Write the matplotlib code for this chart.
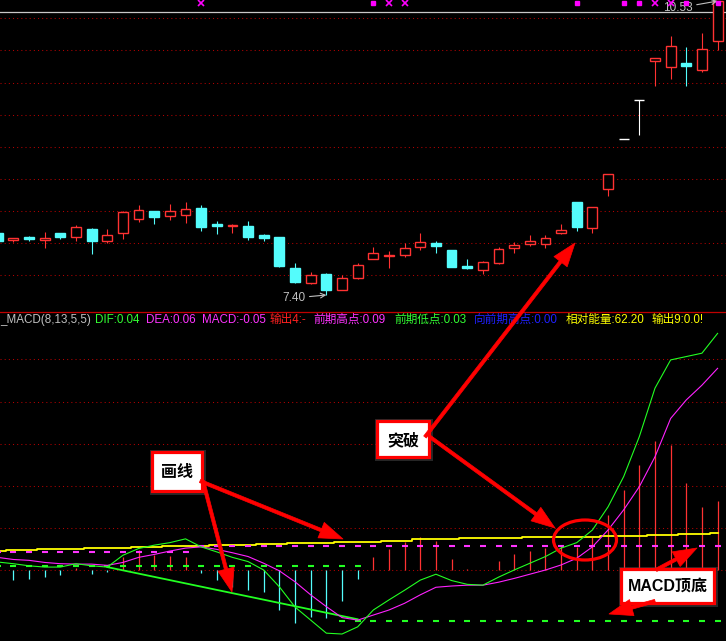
import numpy as np
import matplotlib
matplotlib.use('Agg')
import matplotlib.pyplot as plt
import matplotlib.transforms as mtransforms
from matplotlib.patches import Rectangle, Ellipse, FancyArrowPatch

plt.rcParams['font.family'] = ['Liberation Sans', 'Noto Sans CJK SC', 'DejaVu Sans']

# ---------------- K线 ----------------
opens = [8.06, 7.99, 8.02, 7.99, 8.06, 8.02, 8.10, 7.97, 8.06, 8.21,
         8.29, 8.24, 8.25, 8.33, 8.16, 8.13, 8.13, 8.04, 8.02, 7.69,
         7.53, 7.62, 7.45, 7.58, 7.78, 7.82, 7.83, 7.91, 7.95, 7.88,
         7.71, 7.67, 7.74, 7.90, 7.94, 7.94, 8.06, 8.39, 8.11, 8.53,
         9.06, 9.48, 9.89, 9.83, 9.87, 9.80, 10.10]
highs = [8.07, 8.01, 8.03, 8.07, 8.06, 8.15, 8.11, 8.10, 8.29, 8.36,
         8.29, 8.37, 8.39, 8.36, 8.19, 8.16, 8.19, 8.05, 8.02, 7.74,
         7.64, 7.63, 7.61, 7.74, 7.91, 7.87, 7.95, 8.06, 7.97, 7.88,
         7.78, 7.76, 7.91, 7.96, 8.04, 8.04, 8.16, 8.39, 8.34, 8.69,
         9.06, 9.48, 9.92, 10.16, 10.04, 10.19, 10.53]
lows = [7.97, 7.96, 7.97, 7.90, 8.00, 7.97, 7.84, 7.95, 8.00, 8.18,
        8.16, 8.20, 8.17, 8.08, 8.05, 8.06, 7.99, 7.97, 7.70, 7.53,
        7.52, 7.40, 7.45, 7.57, 7.78, 7.69, 7.80, 7.88, 7.85, 7.70,
        7.68, 7.62, 7.73, 7.85, 7.92, 7.90, 8.05, 8.08, 8.06, 8.45,
        9.06, 9.10, 9.62, 9.70, 9.63, 9.77, 10.01]
closes = [7.98, 8.01, 8.00, 8.01, 8.02, 8.12, 7.98, 8.04, 8.28, 8.30,
          8.23, 8.29, 8.32, 8.12, 8.14, 8.15, 8.02, 8.01, 7.71, 7.54,
          7.61, 7.45, 7.58, 7.72, 7.85, 7.83, 7.90, 7.96, 7.92, 7.70,
          7.69, 7.75, 7.89, 7.93, 7.97, 8.01, 8.09, 8.12, 8.34, 8.69,
          9.06, 9.48, 9.92, 10.05, 9.84, 10.02, 10.53]
white_bars = [40, 41]
low_idx, low_price = 21, 7.40
high_idx, high_price = 46, 10.53

# 顶部信号
sig_box = [24, 37, 40, 41, 44, 46]
sig_x = [13, 25, 26, 42, 43]

# ---------------- MACD ----------------
dif = [0.019, 0.015, 0.010, 0.007, 0.007, 0.015, 0.010, 0.007, 0.035, 0.051,
       0.059, 0.065, 0.074, 0.055, 0.043, 0.030, 0.020, 0.000, -0.040, -0.088,
       -0.119, -0.150, -0.152, -0.135, -0.095, -0.071, -0.048, -0.024, -0.010, -0.025,
       -0.034, -0.036, -0.017, 0.000, 0.016, 0.032, 0.052, 0.065, 0.095, 0.150,
       0.222, 0.317, 0.432, 0.499, 0.507, 0.515, 0.562]
dea = [0.030, 0.025, 0.023, 0.018, 0.015, 0.014, 0.014, 0.011, 0.018, 0.030,
       0.037, 0.045, 0.052, 0.055, 0.049, 0.041, 0.032, 0.016, -0.002, -0.028,
       -0.059, -0.087, -0.113, -0.119, -0.107, -0.095, -0.079, -0.059, -0.041, -0.038,
       -0.036, -0.036, -0.029, -0.020, -0.010, 0.000, 0.012, 0.028, 0.055, 0.095,
       0.143, 0.198, 0.269, 0.360, 0.404, 0.439, 0.479]
macd = [-0.020, -0.023, -0.021, -0.016, -0.011, 0.005, -0.009, -0.005, 0.031, 0.047,
        0.036, 0.033, 0.031, -0.007, -0.023, -0.040, -0.048, -0.052, -0.095, -0.125,
        -0.112, -0.113, -0.073, -0.021, 0.031, 0.051, 0.067, 0.079, 0.069, 0.027,
        0.002, 0.000, 0.022, 0.038, 0.044, 0.052, 0.057, 0.055, 0.079, 0.131,
        0.190, 0.249, 0.306, 0.297, 0.206, 0.150, 0.163]
energy = [0.044, 0.047, 0.047, 0.049, 0.049, 0.049, 0.052, 0.052, 0.052, 0.054,
          0.054, 0.056, 0.056, 0.057, 0.059, 0.059, 0.059, 0.062, 0.062, 0.063,
          0.063, 0.063, 0.066, 0.066, 0.067, 0.070, 0.070, 0.073, 0.073, 0.073,
          0.076, 0.076, 0.076, 0.076, 0.078, 0.078, 0.078, 0.078, 0.078, 0.081,
          0.081, 0.081, 0.083, 0.083, 0.086, 0.086, 0.089]
prev_high = [(0, 12, 0.042), (13, 46, 0.056)]
prev_low = [(0, 23, 0.010), (22, 46, -0.120)]
trend_i = [7, 23]
trend_v = [0.007, -0.117]

header = ["_MACD(8,13,5,5)", "DIF:0.04", "DEA:0.06", "MACD:-0.05", "输出4:-",
          "前期高点:0.09", "前期低点:0.03", "向前期高点:0.00", "相对能量:62.20", "输出9:0.0!"]
header_colors = ['#c0c0c0', '#33ff33', '#ff33ff', '#ff33ff', '#ff2020',
                 '#ff33ff', '#33ff33', '#2020ff', '#ffff00', '#ffff00']

# ---------------- 画布 ----------------
W, H = 726, 641
split = 312
step, x0 = 15.65, -2.3
xlim = (-x0 / step, (W - x0) / step)
red, cyan = '#ff3232', '#54fcfc'
grid_red = '#b40000'
dots = (0, (1, 3))

fig = plt.figure(figsize=(W / 100, H / 100), dpi=100, facecolor='black')
ax1 = fig.add_axes([0, 1 - split / H, 1, split / H])
ax2 = fig.add_axes([0, 0, 1, 1 - split / H])
for ax in (ax1, ax2):
    ax.set_axis_off()
    ax.set_xlim(*xlim)

# 主图
ax1.set_ylim(7.219, 10.541)
for row in 18.3 + 32.1 * np.arange(9):
    ax1.plot([0, 1], [1 - row / split] * 2, transform=ax1.transAxes,
             color=grid_red, lw=0.75, ls=dots, zorder=0)
ax1.plot([0, 1], [1 - 12.3 / split] * 2, transform=ax1.transAxes,
         color='#c8c8c8', lw=0.9, zorder=1)

bw = 0.63
for i in range(len(opens)):
    o, h, l, c = opens[i], highs[i], lows[i], closes[i]
    if i in white_bars:
        col, face = 'white', 'white'
    elif c >= o:
        col, face = red, 'black'
    else:
        col, face = cyan, cyan
    ax1.vlines(i, l, h, color=col, lw=0.8, zorder=2)
    ax1.add_patch(Rectangle((i - bw / 2, min(o, c)), bw, abs(c - o),
                            facecolor=face, edgecolor=col, lw=1.0, zorder=3))

ax1.annotate(f"{low_price:.2f}", xy=(low_idx, low_price), xytext=(-21, -3),
             textcoords='offset pixels', ha='right', va='center', color='#c0c0c0',
             fontsize=8.5, arrowprops=dict(arrowstyle='->', color='#c0c0c0', lw=0.8,
                                           shrinkA=1, shrinkB=0))
ax1.annotate(f"{high_price:.2f}", xy=(high_idx, high_price), xytext=(-25, -7),
             textcoords='offset pixels', ha='right', va='center', color='#c0c0c0',
             fontsize=8.5, arrowprops=dict(arrowstyle='->', color='#c0c0c0', lw=0.8,
                                           shrinkA=1, shrinkB=0))

trans = mtransforms.blended_transform_factory(ax1.transData, ax1.transAxes)
ax1.plot(sig_box, [0.991] * len(sig_box), transform=trans, ls='none', marker='s',
         ms=3.5, color='#ff00ff', zorder=5, clip_on=False)
ax1.plot(sig_x, [0.991] * len(sig_x), transform=trans, ls='none', marker='x',
         ms=4, mew=1.2, color='#ff00ff', zorder=5, clip_on=False)

# 副图 MACD
ax2.set_ylim(-0.1686, 0.6128)
for g in np.arange(0, 0.51, 0.1):
    ax2.axhline(g, color=grid_red, lw=0.75, ls=dots, zorder=0)
idx = np.arange(len(macd))
ax2.vlines(idx, 0, macd, colors=[red if v > 0 else cyan for v in macd], lw=0.9, zorder=1)
ax2.plot(idx, energy, color='#ffff00', lw=1.3, drawstyle='steps-mid', zorder=2)
for a, b, v in prev_high:
    ax2.plot(idx[a:b + 1], [v] * (b - a + 1), ls='none', marker='_', ms=4.5, mew=1.5,
             color='#ff33ff', zorder=2)
for a, b, v in prev_low:
    ax2.plot(idx[a:b + 1], [v] * (b - a + 1), ls='none', marker='_', ms=4.5, mew=1.5,
             color='#22ff22', zorder=2)
ax2.plot(trend_i, trend_v, color='#22ff22', lw=1.3, zorder=3)
ax2.plot(idx, dea, color='#ff22ff', lw=0.8, zorder=3)
ax2.plot(idx, dif, color='#22ff22', lw=0.8, zorder=4)

# 覆盖层: 标题与标注 (像素坐标)
ov = fig.add_axes([0, 0, 1, 1])
ov.set_xlim(0, W)
ov.set_ylim(H, 0)
ov.set_axis_off()
ov.plot([0, W], [split, split], color='#c00000', lw=0.9)

header_x = [0, 95, 146, 202, 270, 313, 394, 474, 566, 652]
for s, c, x in zip(header, header_colors, header_x):
    ov.text(x, 320, s, color=c, fontsize=8.4, ha='left', va='center')

boxes = [(152, 452, 50, 39, "画线"), (377, 421, 52, 36, "突破"), (621, 569, 93, 34, "MACD顶底")]
arrows = [((200, 481), (343, 539)), ((203, 481), (232, 592)),
          ((425, 437), (575, 243)), ((430, 437), (555, 528)),
          ((656, 570), (697, 548)), ((655, 601), (609, 614))]

for bx, by, bw_, bh, label in boxes:
    ov.add_patch(Rectangle((bx - 2, by - 2), bw_ + 6, bh + 6, facecolor='#555555',
                           alpha=0.45, edgecolor='none', zorder=5))
    ov.add_patch(Rectangle((bx, by), bw_, bh, facecolor='white', edgecolor='#ff0000',
                           lw=2.3, zorder=6))
    ov.text(bx + bw_ / 2, by + bh / 2 + 1, label, color='black', fontsize=11.5,
            weight='bold', ha='center', va='center', zorder=7)

for p, q in arrows:
    ov.add_patch(FancyArrowPatch(p, q, arrowstyle='simple,head_length=1.7,head_width=1.2,tail_width=0.24',
                                 mutation_scale=10, facecolor='#ff0000', edgecolor='#ff0000',
                                 lw=0.5, shrinkA=0, shrinkB=0, zorder=8))
ov.add_patch(Ellipse((585, 540), 63, 40, fill=False, edgecolor='#ff0000', lw=2.3, zorder=8))

fig.savefig('out.png', dpi=100, facecolor='black')
